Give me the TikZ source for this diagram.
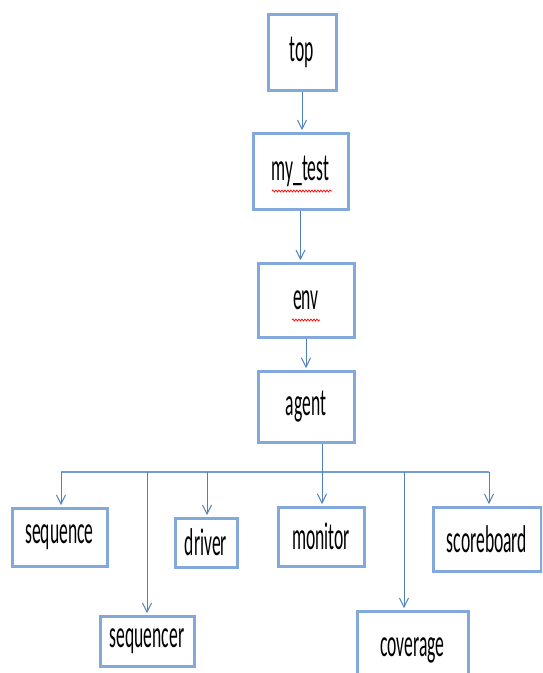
\documentclass[tikz,border=0pt]{standalone}
\usepackage{fontspec}
\setmainfont{Carlito}
\usetikzlibrary{arrows.meta,decorations.pathmorphing}
\definecolor{boxblue}{RGB}{130,168,220}
\definecolor{lineblue}{RGB}{79,129,189}
\tikzset{
 box/.style={draw=boxblue, line width=3pt, fill=white, inner sep=0pt, font=\fontsize{17.6}{20}\selectfont},
 arr/.style={draw=lineblue, line width=1pt, shorten >=1.5pt, -{Straight Barb[length=9pt,width=9pt,line width=1pt]}},
 busline/.style={draw=boxblue!70!lineblue, line width=2pt},
 squig/.style={draw=red, line width=0.7pt, decorate, decoration={snake, amplitude=1pt, segment length=3pt}}
}
\newcommand{\tall}[1]{\scalebox{1}[2.2]{#1}}
\begin{document}
\begin{tikzpicture}[x=1pt,y=-1pt]
\useasboundingbox (0,0) rectangle (542,673);
\clip (0,0) rectangle (542,673);
% chain
\node[box, minimum width=68pt, minimum height=76pt] (top) at (302,52) {\tall{top}};
\node[box, minimum width=95pt, minimum height=76pt] (mytest) at (300.5,171) {\tall{my\_test}};
\node[box, minimum width=96pt, minimum height=74pt] (env) at (306,300) {\tall{env}};
\node[box, minimum width=96pt, minimum height=71pt] (agent) at (306,406.5) {\tall{agent}};
% leaves
\node[box, minimum width=95pt, minimum height=58pt] (sequence) at (59.5,537) {\tall{sequence}};
\node[box, minimum width=94pt, minimum height=50pt] (sequencer) at (147,641) {\tall{sequencer}};
\node[box, minimum width=62pt, minimum height=49pt] (driver) at (206,542.5) {\tall{driver}};
\node[box, minimum width=86pt, minimum height=59pt] (monitor) at (321,536.5) {\tall{monitor}};
\node[box, minimum width=111pt, minimum height=78pt] (coverage) at (412.5,650) {\tall{coverage}};
\node[box, minimum width=108pt, minimum height=64pt] (scoreboard) at (487,539) {\tall{scoreboard}};
% spell-check squiggles
\draw[squig] (272,191) -- (332,191);
\draw[squig] (292,320) -- (320,320);
% chain arrows
\draw[arr] (top.south) -- (top.south |- mytest.north);
\draw[arr] (mytest.south) -- (mytest.south |- env.north);
\draw[arr] (env.south) -- (env.south |- agent.north);
% bus
\coordinate (b1) at (61,472);
\coordinate (b2) at (147,472);
\coordinate (b3) at (207,472);
\coordinate (b5) at (404,472);
\coordinate (b6) at (489,472);
\draw[busline] (b1) -- (b6);
\draw[arr] ([xshift=16pt]agent.south) -- ([xshift=16pt]agent.south |- monitor.north);
\draw[arr] (b1) -- (b1 |- sequence.north);
\draw[arr] (b2) -- (b2 |- sequencer.north);
\draw[arr] (b3) -- (b3 |- driver.north);
\draw[arr] (b5) -- (b5 |- coverage.north);
\draw[arr] (b6) -- (b6 |- scoreboard.north);
\end{tikzpicture}
\end{document}
